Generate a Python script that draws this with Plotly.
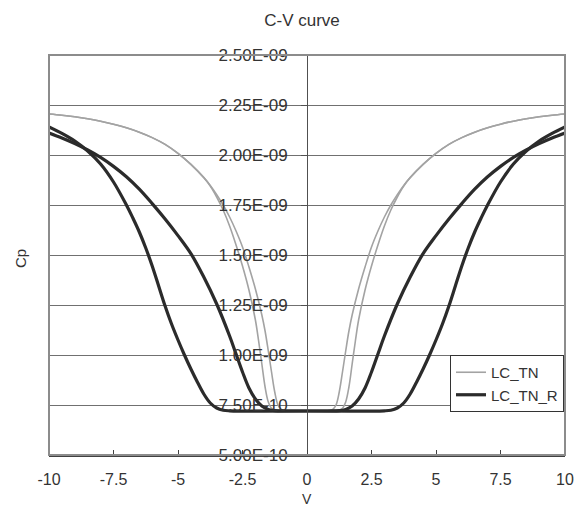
import plotly.graph_objects as go

# ---------------- data (Cp in units of 1e-9 F) ----------------
# LC_TN  (gray) - sweep A: inner-left branch + outer-right branch
V_tn_a = [-10, -9.5, -9, -8.5, -8, -7.5, -7, -6.5, -6, -5.5, -5, -4.5, -4,
          -3.75, -3.5, -3.25, -3.0, -2.75, -2.5, -2.25, -2.0, -1.75, -1.625, -1.5, -1.375,
          -1.25, -1.125, -1.0, -0.875,
          0,
          1.25, 1.375, 1.5, 1.625, 1.75, 1.875, 2.0, 2.25, 2.5, 2.75, 3.0, 3.25, 3.5, 3.75,
          4, 4.5, 5, 5.5, 6, 6.5, 7, 7.5, 8, 8.5, 9, 9.5, 10]
C_tn_a = [2.205, 2.199, 2.191, 2.181, 2.169, 2.154, 2.136, 2.114, 2.087, 2.053, 2.008, 1.953, 1.887,
          1.848, 1.802, 1.75, 1.69, 1.62, 1.54, 1.44, 1.33, 1.20, 1.12, 1.02, 0.915,
          0.815, 0.75, 0.728, 0.722,
          0.72,
          0.723, 0.733, 0.765, 0.84, 0.955, 1.07, 1.175, 1.325, 1.445, 1.55, 1.645, 1.725, 1.79, 1.845,
          1.887, 1.953, 2.008, 2.053, 2.087, 2.114, 2.136, 2.154, 2.169, 2.181, 2.191, 2.199, 2.205]
# LC_TN  (gray) - sweep B: outer-left branch + inner-right branch
V_tn_b = [-10, -9.5, -9, -8.5, -8, -7.5, -7, -6.5, -6, -5.5, -5, -4.5, -4,
          -3.75, -3.5, -3.25, -3.0, -2.75, -2.5, -2.25, -2.0, -1.875, -1.75, -1.625, -1.5,
          -1.375, -1.25,
          0,
          0.875, 1.0, 1.125, 1.25, 1.375, 1.5, 1.625, 1.75, 2.0, 2.25, 2.5, 2.75, 3.0, 3.25,
          3.5, 3.75,
          4, 4.5, 5, 5.5, 6, 6.5, 7, 7.5, 8, 8.5, 9, 9.5, 10]
C_tn_b = [2.205, 2.199, 2.191, 2.181, 2.169, 2.154, 2.136, 2.114, 2.087, 2.053, 2.008, 1.953, 1.887,
          1.845, 1.79, 1.725, 1.645, 1.55, 1.445, 1.325, 1.175, 1.07, 0.955, 0.84, 0.765,
          0.733, 0.723,
          0.72,
          0.722, 0.728, 0.75, 0.815, 0.915, 1.02, 1.12, 1.20, 1.33, 1.44, 1.54, 1.62, 1.69, 1.75,
          1.802, 1.848,
          1.887, 1.953, 2.008, 2.053, 2.087, 2.114, 2.136, 2.154, 2.169, 2.181, 2.191, 2.199, 2.205]

# LC_TN_R (black) - sweep A: inner-left branch + outer-right branch
V_r_a = [-10, -9.5, -9, -8.5, -8, -7.5, -7, -6.5, -6, -5.5, -5, -4.5, -4, -3.5, -3,
         -2.75, -2.5, -2.25, -2.0, -1.75, -1.5, -1.25,
         0,
         3.0, 3.25, 3.5, 3.75, 4.0, 4.25, 4.5, 4.75, 5.0, 5.25, 5.5, 5.75, 6.0, 6.25, 6.5, 6.75,
         7, 7.5, 8, 8.5, 9, 9.5, 10]
C_r_a = [2.11, 2.085, 2.057, 2.025, 1.988, 1.943, 1.891, 1.829, 1.757, 1.68, 1.597, 1.507,
         1.39, 1.255, 1.095, 1.005, 0.915, 0.835, 0.78, 0.745, 0.728, 0.722,
         0.72,
         0.721, 0.724, 0.735, 0.76, 0.805, 0.865, 0.93, 1.0, 1.075, 1.155, 1.245, 1.345, 1.445,
         1.535, 1.615, 1.685, 1.75, 1.865, 1.955, 2.02, 2.07, 2.108, 2.14]
# LC_TN_R (black) - sweep B: outer-left branch + inner-right branch
V_r_b = [-10, -9.5, -9, -8.5, -8, -7.5, -7, -6.75, -6.5, -6.25, -6.0, -5.75, -5.5, -5.25,
         -5.0, -4.75, -4.5, -4.25, -4.0, -3.75, -3.5, -3.25, -3.0,
         0,
         1.25, 1.5, 1.75, 2.0, 2.25, 2.5, 2.75, 3.0, 3.5, 4.0, 4.5, 5, 5.5, 6, 6.5, 7, 7.5, 8,
         8.5, 9, 9.5, 10]
C_r_b = [2.14, 2.108, 2.07, 2.02, 1.955, 1.865, 1.75, 1.685, 1.615, 1.535, 1.445, 1.345, 1.245,
         1.155, 1.075, 1.0, 0.93, 0.865, 0.805, 0.76, 0.735, 0.724, 0.721,
         0.72,
         0.722, 0.728, 0.745, 0.78, 0.835, 0.915, 1.005, 1.095, 1.255, 1.39, 1.507, 1.597, 1.68,
         1.757, 1.829, 1.891, 1.943, 1.988, 2.025, 2.057, 2.085, 2.11]

y_ticks = [0.5, 0.75, 1.0, 1.25, 1.5, 1.75, 2.0, 2.25, 2.5]
y_tick_text = ["5.00E-10", "7.50E-10", "1.00E-09", "1.25E-09", "1.50E-09",
               "1.75E-09", "2.00E-09", "2.25E-09", "2.50E-09"]
x_ticks = [-10, -7.5, -5, -2.5, 0, 2.5, 5, 7.5, 10]
x_tick_text = ["-10", "-7.5", "-5", "-2.5", "0", "2.5", "5", "7.5", "10"]

FONT = "Liberation Sans"
TXT = "#333333"

fig = go.Figure()
gray = dict(color="#a3a3a3", width=1.6, shape="spline", smoothing=1.0)
black = dict(color="#2b2b2b", width=3.2, shape="spline", smoothing=1.0)

fig.add_trace(go.Scatter(x=V_tn_a, y=C_tn_a, mode="lines", line=gray, name="LC_TN",
                         legendgroup="tn", showlegend=True))
fig.add_trace(go.Scatter(x=V_tn_b, y=C_tn_b, mode="lines", line=gray, name="LC_TN",
                         legendgroup="tn", showlegend=False))
fig.add_trace(go.Scatter(x=V_r_a, y=C_r_a, mode="lines", line=black, name="LC_TN_R",
                         legendgroup="r", showlegend=True))
fig.add_trace(go.Scatter(x=V_r_b, y=C_r_b, mode="lines", line=black, name="LC_TN_R",
                         legendgroup="r", showlegend=False))

fig.update_layout(
    width=575, height=507,
    margin=dict(l=49, r=10, t=55, b=52, autoexpand=False),
    paper_bgcolor="white", plot_bgcolor="white",
    font=dict(family=FONT, size=17, color=TXT),
    title=dict(text="C-V curve", x=302 / 575, xanchor="center", y=1 - 20 / 507,
               yanchor="middle", font=dict(family=FONT, size=17, color=TXT)),
    showlegend=True,
    legend=dict(x=(450 - 49) / 516, y=0.25, xanchor="left", yanchor="top",
                bordercolor="#333333", borderwidth=1, bgcolor="white",
                font=dict(family=FONT, size=15, color=TXT), tracegroupgap=0,
                itemwidth=30),
)
fig.update_xaxes(
    range=[-10, 10], tickvals=x_ticks, ticktext=x_tick_text, automargin=False,
    showgrid=False, zeroline=False,
    showline=True, linecolor="#404040", linewidth=1.5,
    ticks="inside", ticklen=5, tickcolor="#404040", ticklabelstandoff=9,
    tickfont=dict(family=FONT, size=16, color=TXT),
)
fig.update_yaxes(
    range=[0.5, 2.5], tickvals=y_ticks, ticktext=y_tick_text, automargin=False,
    anchor="free", position=0.5,
    showgrid=True, gridcolor="#707070", gridwidth=1, zeroline=False,
    showline=True, linecolor="#505050", linewidth=1,
    ticks="outside", ticklen=6, tickcolor="#505050", ticklabelstandoff=10,
    tickfont=dict(family=FONT, size=17, color=TXT),
)
# plot frame
fig.add_shape(type="rect", xref="paper", yref="paper", x0=0, x1=1, y0=0, y1=1,
              line=dict(color="#8c8c8c", width=2), layer="above")
# axis titles
fig.add_annotation(text="Cp", xref="paper", yref="paper", x=-(49 - 20) / 516, y=0.49,
                   xanchor="center", yanchor="middle", showarrow=False, textangle=-90,
                   font=dict(family=FONT, size=15, color=TXT))
fig.add_annotation(text="V", xref="paper", yref="paper", x=0.5, y=-(499 - 455) / 400,
                   xanchor="center", yanchor="middle", showarrow=False,
                   font=dict(family=FONT, size=14, color=TXT))

fig.write_html("out.html")
